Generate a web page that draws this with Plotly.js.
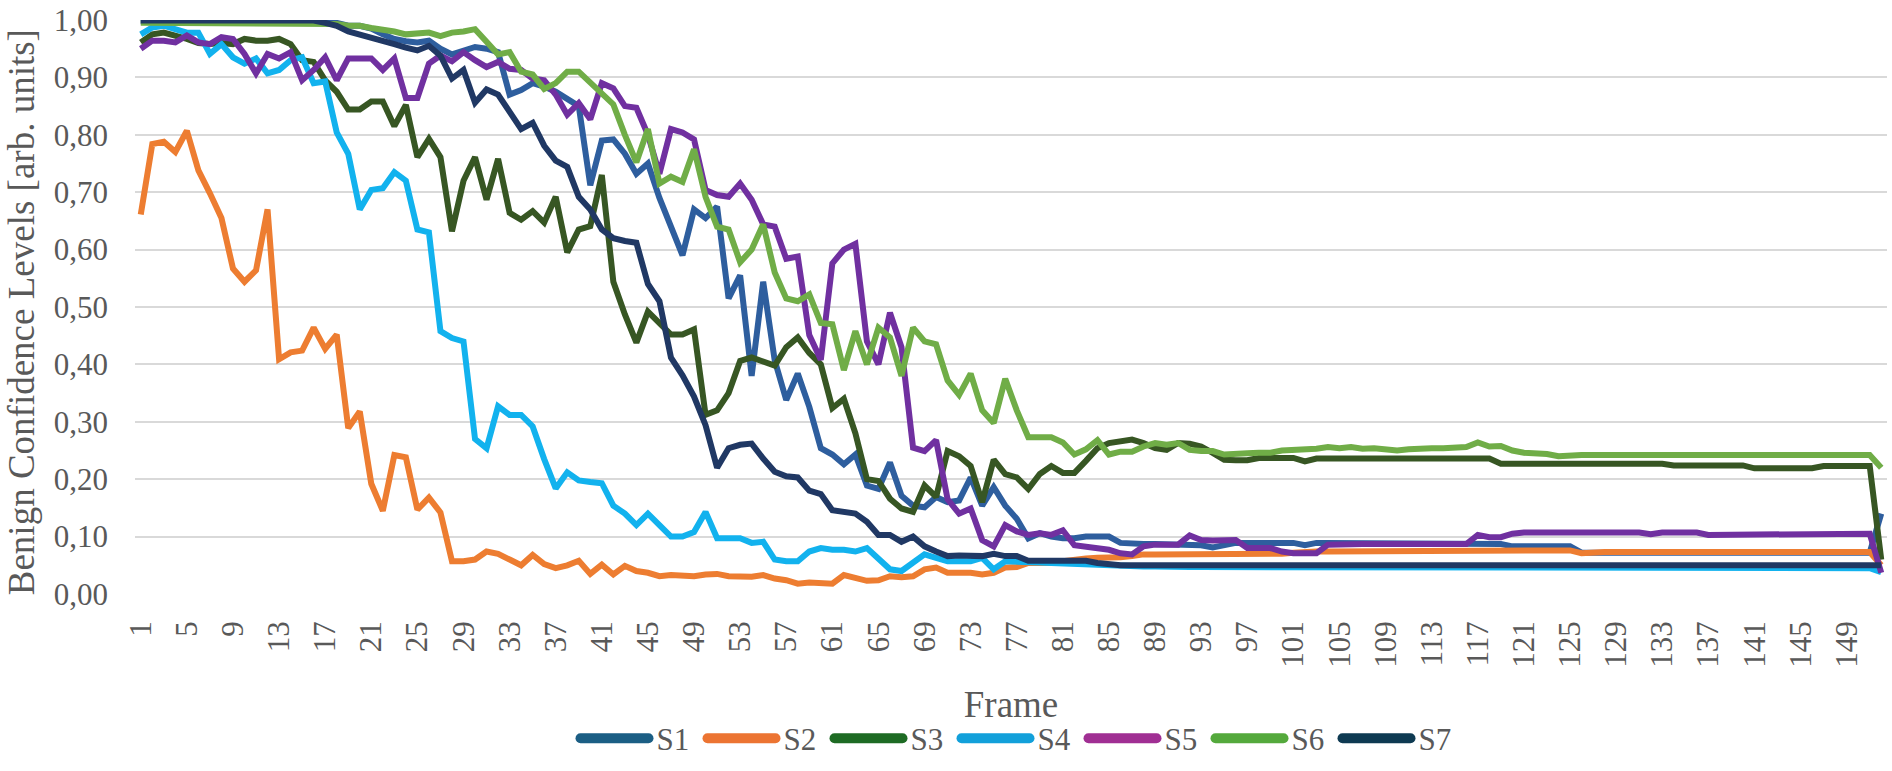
<!DOCTYPE html>
<html>
<head>
<meta charset="utf-8">
<script src="https://cdn.plot.ly/plotly-3.0.1.min.js"></script>
<style>
  html, body { margin: 0; padding: 0; background: #fff; }
  #chart { width: 1892px; height: 771px; }
</style>
</head>
<body>
<div id="chart"></div>
<script>
// frame numbers 1..152
var frames = [];
for (var i = 1; i <= 152; i++) frames.push(i);

var s1 = [0.998,0.998,0.998,0.998,0.998,0.998,0.998,0.998,0.998,0.998,0.998,0.998,0.998,0.998,0.998,0.998,0.997,0.995,0.99,0.99,
  0.985,0.975,0.967,0.963,0.961,0.964,0.95,0.94,0.947,0.953,0.95,0.944,0.87,0.878,0.89,0.884,0.875,0.861,0.85,0.712,
  0.79,0.792,0.767,0.732,0.75,0.69,0.638,0.59,0.67,0.655,0.675,0.515,0.555,0.38,0.544,0.407,0.338,0.384,0.326,0.254,
  0.243,0.226,0.243,0.189,0.183,0.229,0.171,0.154,0.151,0.169,0.16,0.163,0.203,0.154,0.186,0.154,0.131,0.097,0.106,0.1,
  0.097,0.097,0.1,0.1,0.1,0.089,0.087,0.087,0.087,0.087,0.087,0.085,0.085,0.081,0.085,0.089,0.089,0.089,0.089,0.089,
  0.089,0.085,0.089,0.089,0.089,0.089,0.089,0.089,0.089,0.089,0.089,0.089,0.089,0.089,0.089,0.089,0.087,0.087,0.087,0.083,
  0.083,0.083,0.083,0.083,0.083,0.072,0.072,0.072,0.072,0.072,0.072,0.072,0.072,0.072,0.072,0.072,0.072,0.072,0.072,0.072,
  0.072,0.072,0.072,0.072,0.072,0.072,0.072,0.072,0.072,0.072,0.072,0.14];

var s2 = [0.661,0.784,0.788,0.77,0.807,0.738,0.698,0.655,0.567,0.544,0.564,0.67,0.409,0.421,0.424,0.464,0.427,0.452,0.289,0.318,
  0.192,0.145,0.242,0.238,0.147,0.168,0.142,0.057,0.057,0.06,0.074,0.07,0.06,0.05,0.068,0.052,0.045,0.05,0.058,0.035,
  0.051,0.034,0.049,0.04,0.037,0.031,0.033,0.033,0.031,0.034,0.035,0.031,0.031,0.03,0.033,0.027,0.024,0.018,0.02,0.02,
  0.018,0.033,0.029,0.023,0.024,0.031,0.029,0.031,0.043,0.046,0.037,0.037,0.037,0.034,0.037,0.046,0.047,0.054,0.054,0.054,
  0.057,0.06,0.062,0.063,0.063,0.064,0.066,0.069,0.069,0.069,0.07,0.07,0.07,0.069,0.069,0.069,0.07,0.071,0.071,0.07,
  0.072,0.074,0.074,0.074,0.074,0.074,0.074,0.074,0.074,0.074,0.074,0.074,0.074,0.074,0.074,0.076,0.076,0.076,0.076,0.076,
  0.076,0.076,0.076,0.076,0.076,0.071,0.073,0.073,0.073,0.073,0.073,0.073,0.073,0.073,0.073,0.073,0.073,0.073,0.073,0.073,
  0.073,0.073,0.073,0.073,0.073,0.073,0.073,0.073,0.073,0.073,0.073,0.05];

var s3 = [0.961,0.975,0.978,0.973,0.967,0.96,0.958,0.96,0.958,0.967,0.964,0.964,0.967,0.958,0.93,0.927,0.895,0.875,0.844,0.844,
  0.858,0.858,0.815,0.852,0.761,0.793,0.761,0.632,0.72,0.761,0.687,0.758,0.664,0.652,0.667,0.647,0.692,0.595,0.635,0.641,
  0.73,0.544,0.487,0.438,0.492,0.472,0.452,0.452,0.461,0.312,0.32,0.35,0.406,0.412,0.406,0.398,0.43,0.447,0.42,0.4,
  0.324,0.34,0.28,0.2,0.197,0.166,0.149,0.143,0.189,0.169,0.249,0.24,0.223,0.16,0.234,0.209,0.203,0.183,0.209,0.223,
  0.211,0.211,0.232,0.254,0.263,0.267,0.269,0.263,0.254,0.251,0.263,0.262,0.257,0.246,0.234,0.233,0.233,0.237,0.237,0.237,
  0.237,0.231,0.236,0.236,0.236,0.236,0.236,0.236,0.236,0.236,0.236,0.236,0.236,0.236,0.236,0.236,0.236,0.236,0.227,0.227,
  0.227,0.227,0.227,0.227,0.227,0.227,0.227,0.227,0.227,0.227,0.227,0.227,0.227,0.224,0.224,0.224,0.224,0.224,0.224,0.224,
  0.219,0.219,0.219,0.219,0.219,0.219,0.223,0.223,0.223,0.223,0.223,0.06];

var s4 = [0.975,0.987,0.99,0.984,0.978,0.978,0.941,0.958,0.935,0.924,0.933,0.907,0.913,0.93,0.935,0.89,0.893,0.804,0.767,0.67,
  0.704,0.707,0.735,0.72,0.635,0.63,0.458,0.446,0.44,0.27,0.254,0.327,0.312,0.312,0.292,0.235,0.184,0.212,0.198,0.195,
  0.193,0.154,0.14,0.12,0.14,0.12,0.1,0.1,0.108,0.143,0.097,0.097,0.097,0.089,0.091,0.06,0.057,0.057,0.074,0.08,
  0.077,0.077,0.074,0.08,0.06,0.043,0.04,0.054,0.069,0.063,0.057,0.057,0.057,0.063,0.043,0.057,0.057,0.055,0.055,0.054,
  0.053,0.052,0.052,0.051,0.049,0.048,0.048,0.048,0.048,0.047,0.047,0.047,0.047,0.047,0.047,0.047,0.047,0.047,0.047,0.047,
  0.047,0.047,0.047,0.047,0.047,0.047,0.047,0.047,0.047,0.047,0.047,0.047,0.047,0.047,0.047,0.047,0.047,0.047,0.047,0.047,
  0.047,0.047,0.047,0.047,0.047,0.047,0.047,0.047,0.047,0.047,0.047,0.047,0.047,0.047,0.047,0.047,0.047,0.047,0.047,0.047,
  0.047,0.047,0.047,0.047,0.047,0.047,0.047,0.047,0.047,0.047,0.045,0.038];

var s5 = [0.95,0.964,0.964,0.961,0.973,0.961,0.958,0.97,0.967,0.941,0.907,0.941,0.933,0.944,0.895,0.913,0.935,0.895,0.933,0.933,
  0.933,0.913,0.933,0.864,0.864,0.924,0.938,0.928,0.944,0.93,0.918,0.927,0.915,0.913,0.898,0.895,0.87,0.835,0.855,0.827,
  0.89,0.881,0.85,0.847,0.8,0.732,0.81,0.804,0.792,0.704,0.695,0.692,0.715,0.687,0.644,0.64,0.584,0.588,0.451,0.408,
  0.576,0.6,0.61,0.44,0.4,0.49,0.43,0.255,0.249,0.268,0.165,0.14,0.149,0.094,0.083,0.12,0.109,0.103,0.106,0.103,
  0.111,0.085,0.083,0.081,0.077,0.071,0.069,0.083,0.086,0.086,0.086,0.102,0.094,0.093,0.093,0.094,0.08,0.08,0.08,0.074,
  0.071,0.071,0.071,0.086,0.087,0.087,0.087,0.087,0.087,0.087,0.087,0.087,0.087,0.087,0.087,0.087,0.103,0.099,0.099,0.105,
  0.107,0.107,0.107,0.107,0.107,0.107,0.107,0.107,0.107,0.107,0.107,0.104,0.107,0.107,0.107,0.107,0.103,0.103,0.103,0.103,
  0.103,0.103,0.103,0.105,0.105,0.105,0.105,0.105,0.105,0.105,0.105,0.037];

var s6 = [0.995,0.995,0.995,0.995,0.995,0.995,0.995,0.995,0.995,0.995,0.995,0.995,0.995,0.995,0.995,0.995,0.995,0.993,0.99,0.99,
  0.986,0.984,0.98,0.975,0.976,0.978,0.972,0.978,0.98,0.984,0.962,0.94,0.944,0.91,0.905,0.88,0.89,0.91,0.91,0.89,
  0.87,0.853,0.8,0.752,0.81,0.715,0.727,0.718,0.775,0.692,0.64,0.635,0.578,0.6,0.644,0.56,0.515,0.51,0.522,0.472,
  0.47,0.39,0.458,0.4,0.464,0.447,0.38,0.464,0.44,0.435,0.372,0.347,0.384,0.32,0.298,0.375,0.32,0.273,0.273,0.273,
  0.264,0.243,0.252,0.268,0.243,0.248,0.248,0.257,0.263,0.26,0.263,0.251,0.249,0.249,0.243,0.243,0.245,0.246,0.246,0.25,
  0.251,0.251,0.253,0.256,0.254,0.256,0.253,0.254,0.252,0.25,0.252,0.254,0.254,0.254,0.254,0.256,0.264,0.257,0.258,0.25,
  0.246,0.245,0.244,0.24,0.242,0.242,0.242,0.242,0.242,0.242,0.242,0.242,0.242,0.242,0.242,0.242,0.242,0.242,0.242,0.242,
  0.242,0.242,0.242,0.242,0.242,0.242,0.242,0.242,0.242,0.242,0.242,0.22];

var s7 = [0.999,0.999,0.999,0.999,0.999,0.999,0.999,0.999,0.999,0.999,0.999,0.999,0.999,0.999,0.999,0.999,0.995,0.99,0.98,0.975,
  0.97,0.965,0.958,0.952,0.947,0.955,0.938,0.898,0.913,0.856,0.879,0.87,0.838,0.81,0.821,0.781,0.755,0.744,0.692,0.67,
  0.635,0.62,0.615,0.612,0.54,0.51,0.412,0.381,0.344,0.294,0.22,0.254,0.26,0.262,0.236,0.213,0.205,0.203,0.18,0.174,
  0.146,0.144,0.14,0.126,0.103,0.103,0.091,0.1,0.083,0.074,0.066,0.067,0.067,0.066,0.07,0.066,0.066,0.058,0.058,0.058,
  0.058,0.058,0.058,0.054,0.051,0.05,0.05,0.05,0.05,0.05,0.05,0.05,0.05,0.05,0.05,0.05,0.05,0.05,0.05,0.05,
  0.05,0.05,0.05,0.05,0.05,0.05,0.05,0.05,0.05,0.05,0.05,0.05,0.05,0.05,0.05,0.05,0.05,0.05,0.05,0.05,
  0.05,0.05,0.05,0.05,0.05,0.05,0.05,0.05,0.05,0.05,0.05,0.05,0.05,0.05,0.05,0.05,0.05,0.05,0.05,0.05,
  0.05,0.05,0.05,0.05,0.05,0.05,0.05,0.05,0.05,0.05,0.05,0.05];

var names = ["S1", "S2", "S3", "S4", "S5", "S6", "S7"];
var colors = ["#2E5E9E", "#ED7D31", "#375623", "#12B2EE", "#7030A0", "#70AD47", "#203864"];
// legend keys in the source are drawn in slightly different tones
var legendColors = ["#1B5E84", "#EC7432", "#1E6B24", "#12A0DA", "#A02F93", "#54A93C", "#0E3A52"];
var series = [s1, s2, s3, s4, s5, s6, s7];

var xTicks = [];
for (var t = 1; t <= 149; t += 4) xTicks.push(t);

var font = "Liberation Serif, Times New Roman, serif";
var grey = "#595959";

var data = series.map(function(s, i) {
  return {
    x: frames,
    y: s,
    name: names[i],
    type: "scatter",
    mode: "lines",
    line: {color: colors[i], width: 6}
  };
});

var layout = {
  width: 1892,
  height: 771,
  margin: {l: 135, r: 5, t: 20, b: 168},
  separators: ",.",
  paper_bgcolor: "#fff",
  plot_bgcolor: "#fff",
  font: {family: font, color: grey, size: 31},
  xaxis: {
    range: [0.5, 152.5],
    tickmode: "array",
    tickvals: xTicks,
    ticktext: xTicks.map(String),
    tickangle: -90,
    ticklabelstandoff: 20,
    showgrid: false,
    zeroline: false,
    showline: false,
    tickfont: {family: font, size: 31, color: grey},
    title: {text: "Frame", font: {family: font, size: 37, color: grey}, standoff: 24},
    automargin: false
  },
  yaxis: {
    range: [0, 1],
    dtick: 0.1,
    tickformat: ".2f",
    gridcolor: "#d9d9d9",
    gridwidth: 2,
    zeroline: false,
    showline: false,
    ticklabelstandoff: 26,
    tickfont: {family: font, size: 31, color: grey},
    automargin: false
  },
  // y title as a rotated annotation so it sits exactly where the source has it
  annotations: [{
    text: "Benign Confidence Levels [arb. units]",
    textangle: -90,
    xref: "paper", yref: "paper",
    x: -135 / 1752, xanchor: "left",
    y: 0.49, yanchor: "middle",
    showarrow: false,
    borderpad: 0,
    font: {family: font, size: 37, color: grey}
  }],
  showlegend: true,
  legend: {
    orientation: "h",
    x: 0.5,
    xanchor: "center",
    y: -0.252,
    yanchor: "middle",
    font: {family: font, size: 31, color: grey},
    itemwidth: 80,
    entrywidth: 32
  }
};

Plotly.newPlot("chart", data, layout, {staticPlot: true}).then(function(gd) {
  // longer, thicker legend keys like the source
  var keys = gd.querySelectorAll(".legend .traces");
  keys.forEach(function(g, i) {
    var p = g.querySelector(".legendlines path");
    if (!p) return;
    p.setAttribute("d", "M14,0h68");
    p.style.strokeWidth = "10px";
    p.style.strokeLinecap = "round";
    p.style.stroke = legendColors[i];
  });
});
</script>
</body>
</html>
